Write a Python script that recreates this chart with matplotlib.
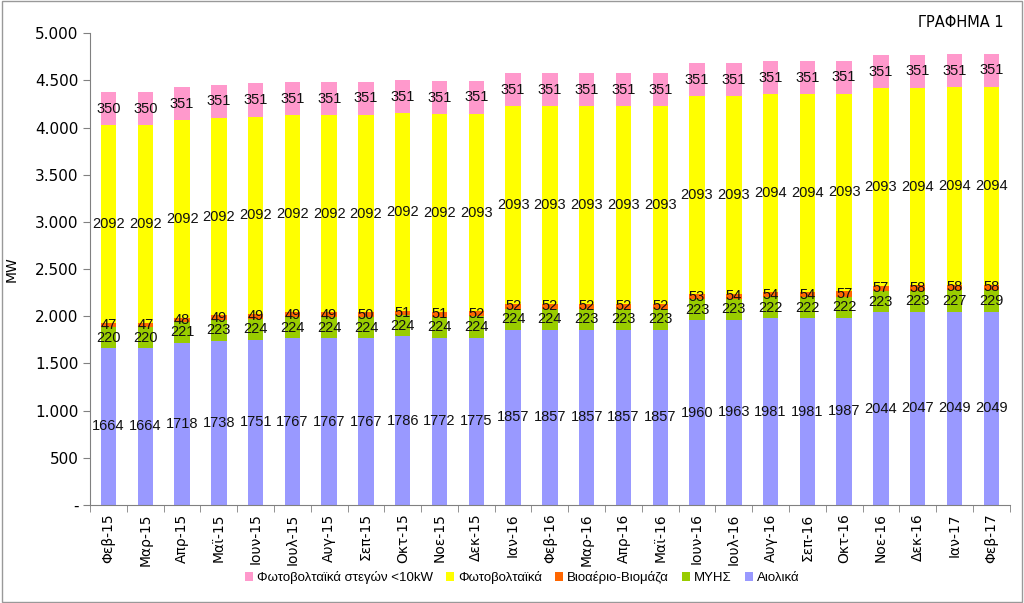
import numpy as np
import matplotlib.pyplot as plt
from matplotlib.patches import Rectangle

months = ['Φεβ-15', 'Μαρ-15', 'Απρ-15', 'Μαϊ-15', 'Ιουν-15', 'Ιουλ-15', 'Αυγ-15', 'Σεπ-15',
          'Οκτ-15', 'Νοε-15', 'Δεκ-15', 'Ιαν-16', 'Φεβ-16', 'Μαρ-16', 'Απρ-16', 'Μαϊ-16',
          'Ιουν-16', 'Ιουλ-16', 'Αυγ-16', 'Σεπ-16', 'Οκτ-16', 'Νοε-16', 'Δεκ-16', 'Ιαν-17', 'Φεβ-17']

aiolika = [1664, 1664, 1718, 1738, 1751, 1767, 1767, 1767, 1786, 1772, 1775, 1857, 1857,
           1857, 1857, 1857, 1960, 1963, 1981, 1981, 1987, 2044, 2047, 2049, 2049]
myhs = [220, 220, 221, 223, 224, 224, 224, 224, 224, 224, 224, 224, 224,
        223, 223, 223, 223, 223, 222, 222, 222, 223, 223, 227, 229]
bio = [47, 47, 48, 49, 49, 49, 49, 50, 51, 51, 52, 52, 52,
       52, 52, 52, 53, 54, 54, 54, 57, 57, 58, 58, 58]
fb = [2092, 2092, 2092, 2092, 2092, 2092, 2092, 2092, 2092, 2092, 2093, 2093, 2093,
      2093, 2093, 2093, 2093, 2093, 2094, 2094, 2093, 2093, 2094, 2094, 2094]
fb_steges = [350, 350] + [351] * 23

series = [
    ('Αιολικά', aiolika, '#9999FF'),
    ('ΜΥΗΣ', myhs, '#99CC00'),
    ('Βιοαέριο-Βιομάζα', bio, '#FF6600'),
    ('Φωτοβολταϊκά', fb, '#FFFF00'),
    ('Φωτοβολταϊκά στεγών <10kW', fb_steges, '#FF99CC'),
]

num_font = ['Liberation Sans', 'DejaVu Sans']

fig = plt.figure(figsize=(10.24, 6.03), dpi=100)
ax = fig.add_axes([0.088, 0.1625, 0.898, 0.7825])

x = np.arange(len(months))
bottom = np.zeros(len(months))
handles = []
for name, vals, col in series:
    vals = np.array(vals, dtype=float)
    b = ax.bar(x, vals, 0.42, bottom=bottom, color=col, label=name)
    handles.append(b)
    for xi, v, bt in zip(x, vals, bottom):
        ax.text(xi, bt + v / 2, '%d' % v, ha='center', va='center', fontsize=10.5,
                color='#111111', family=num_font)
    bottom += vals

ax.set_xlim(-0.5, len(months) - 0.5)
ax.set_ylim(0, 5000)
ax.set_yticks(np.arange(0, 5001, 500))
ax.set_yticklabels(['-'] + ['{:,}'.format(v).replace(',', '.') for v in range(500, 5001, 500)], fontsize=11)
ax.set_ylabel('MW', fontsize=10)
ax.yaxis.set_label_coords(-0.078, 0.5)

ax.set_xticks(x)
ax.set_xticklabels(months, rotation=90, fontsize=10)
ax.tick_params(axis='x', length=0, pad=6)
ax.set_xticks(np.arange(-0.5, len(months)), minor=True)
ax.tick_params(axis='x', which='minor', length=5, color='#808080')
ax.tick_params(axis='y', length=5, color='#808080')

for s in ['top', 'right']:
    ax.spines[s].set_visible(False)
ax.spines['left'].set_color('#808080')
ax.spines['bottom'].set_color('#808080')

fig.text(0.98, 0.962, 'ΓΡΑΦΗΜΑ 1', ha='right', va='center', fontsize=10.5)

order = handles[::-1]
fig.legend(order, [h.get_label() for h in order], loc='center', bbox_to_anchor=(0.51, 0.042),
           ncol=5, frameon=False, prop={'family': num_font, 'size': 9.5},
           handlelength=0.6, handleheight=0.6, handletextpad=0.3, columnspacing=1.0)

fig.patches.append(Rectangle((0.002, 0.002), 0.996, 0.996, transform=fig.transFigure,
                             fill=False, edgecolor='#999999', linewidth=1))

fig.savefig('out.png', dpi=100)
